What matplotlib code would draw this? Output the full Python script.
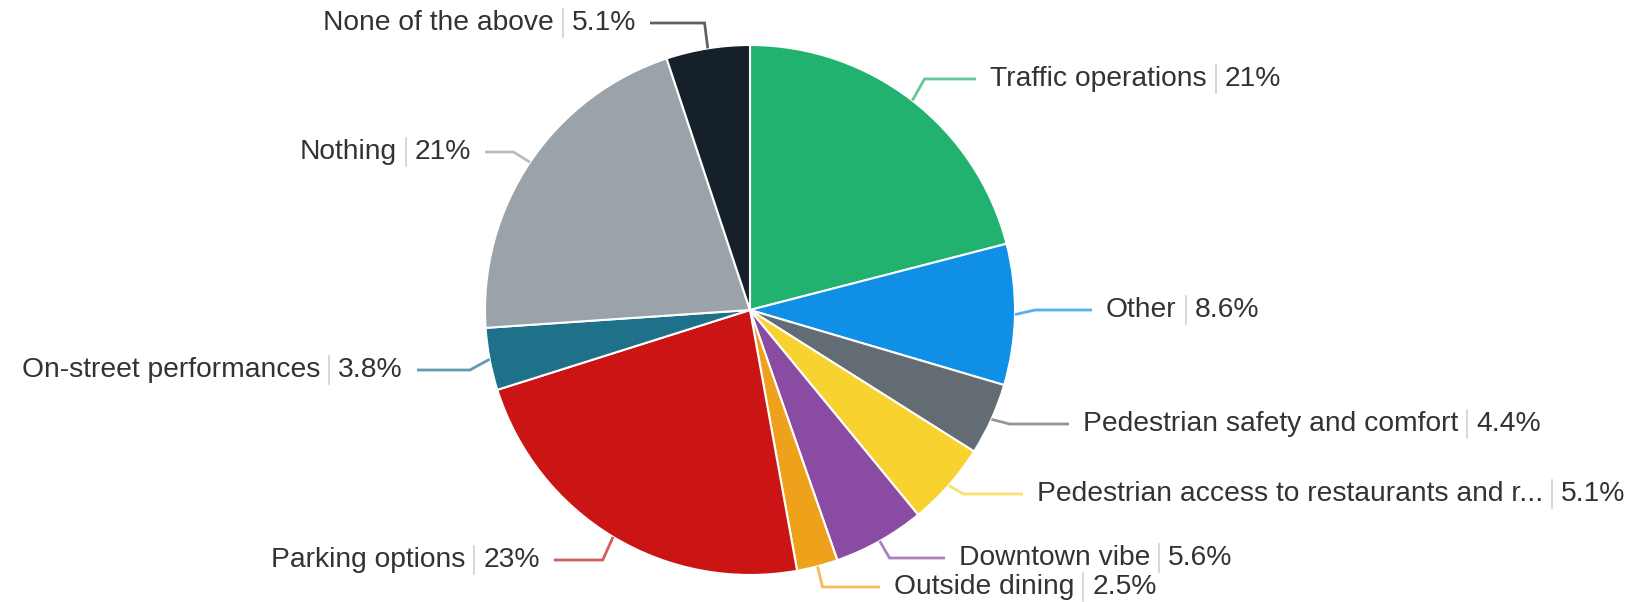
import numpy as np
import matplotlib
matplotlib.use("Agg")
import matplotlib.pyplot as plt

W, H = 1648, 602

labels = ["Traffic operations", "Other", "Pedestrian safety and comfort",
          "Pedestrian access to restaurants and r...", "Downtown vibe",
          "Outside dining", "Parking options", "On-street performances",
          "Nothing", "None of the above"]
values = [21, 8.6, 4.4, 5.1, 5.6, 2.5, 23, 3.8, 21, 5.1]
value_text = ["21%", "8.6%", "4.4%", "5.1%", "5.6%", "2.5%", "23%", "3.8%", "21%", "5.1%"]
colors = ["#21b26f", "#0f8fe6", "#626c72", "#f8d330", "#8a4ca3", "#eea11b",
          "#cb1515", "#1f7189", "#9aa2aa", "#15202a"]

# label anchors in pixels from top-left: (x, y, side)
label_pos = [(990, 79, "r"), (1106, 310, "r"), (1083, 424, "r"), (1037, 494, "r"),
             (959, 558, "r"), (894, 587, "r"), (540, 560, "l"), (403, 370, "l"),
             (471, 152, "l"), (636, 23, "l")]

CX, CY, R = 750, H - 310, 265
FS = 20.3
TXT = "#333333"

plt.rcParams['font.family'] = ['Liberation Sans', 'DejaVu Sans']

fig = plt.figure(figsize=(W / 100, H / 100), dpi=100)
ax = fig.add_axes([0, 0, 1, 1])
wedges, _ = ax.pie(values, colors=colors, startangle=90, counterclock=False,
                   center=(CX, CY), radius=R,
                   wedgeprops=dict(edgecolor="white", linewidth=1.5))
ax.set_xlim(0, W)
ax.set_ylim(0, H)
ax.set_aspect("equal")
ax.axis("off")

renderer = fig.canvas.get_renderer()

for w, name, val, col, (tx, ty, side) in zip(wedges, labels, value_text, colors, label_pos):
    ty = H - ty
    mid = np.deg2rad((w.theta1 + w.theta2) / 2)
    ax_, ay_ = CX + R * np.cos(mid), CY + R * np.sin(mid)
    bx = CX + (R + 20) * np.cos(mid)
    sgn = 1 if side == "r" else -1
    ax.plot([ax_, bx, tx - sgn * 14], [ay_, ty, ty], color=col, alpha=0.7,
            lw=2, solid_capstyle="butt", solid_joinstyle="miter")

    if side == "r":
        t1 = ax.text(tx, ty, name, ha="left", va="center", fontsize=FS, color=TXT)
        x = tx + t1.get_window_extent(renderer).width + 9
        ax.plot([x, x], [ty - 14, ty + 14], color="#d0d0d0", lw=1.2)
        ax.text(x + 9, ty, val, ha="left", va="center", fontsize=FS, color=TXT)
    else:
        t3 = ax.text(tx, ty, val, ha="right", va="center", fontsize=FS, color=TXT)
        x = tx - t3.get_window_extent(renderer).width - 9
        ax.plot([x, x], [ty - 14, ty + 14], color="#d0d0d0", lw=1.2)
        ax.text(x - 9, ty, name, ha="right", va="center", fontsize=FS, color=TXT)

fig.savefig("out.png", dpi=100, facecolor="white")
